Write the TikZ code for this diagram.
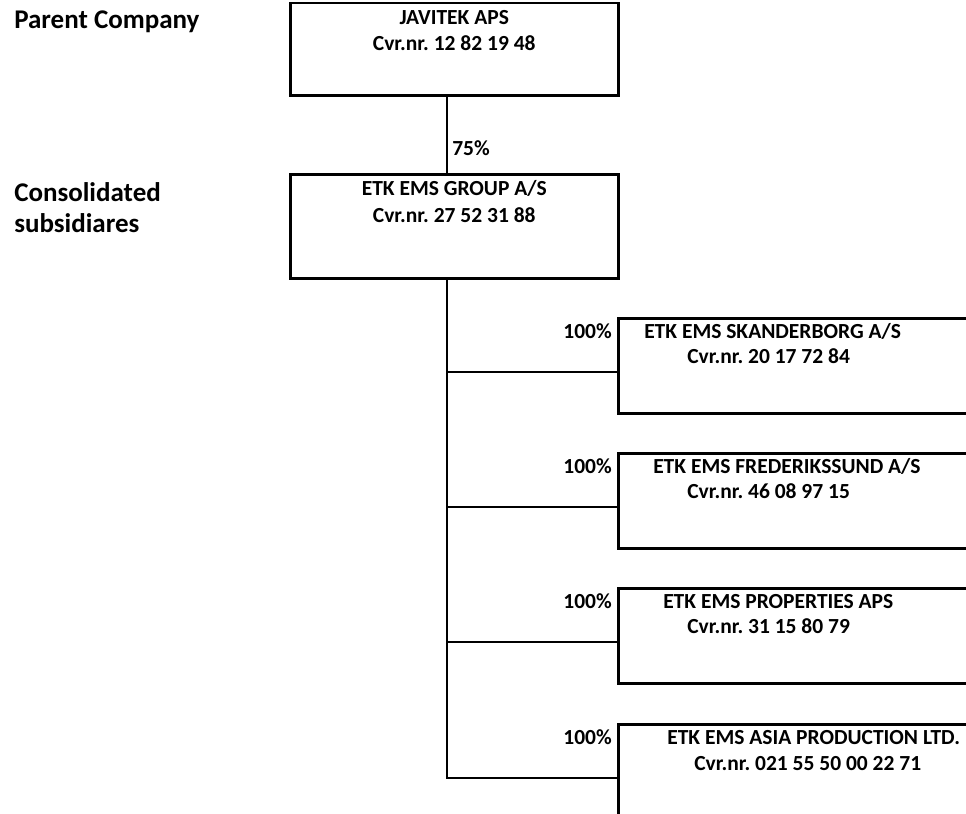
\documentclass[tikz,border=0pt]{standalone}
\usepackage{fontspec}
\setmainfont{Carlito}
\usetikzlibrary{positioning}
\frenchspacing

\begin{document}
\begin{tikzpicture}[
      x=1bp, y=-1bp,
      line width=2.5bp,
      company/.style={draw,rectangle,inner sep=0pt,anchor=north west},
      holding/.style={company,minimum width=328bp},
      subsid/.style={company,minimum width=380bp,minimum height=95bp},
      boxtext/.style={inner sep=0pt,font=\fontsize{21.5bp}{25bp}\selectfont\bfseries},
      sidetext/.style={inner sep=0pt,anchor=base west,font=\fontsize{27bp}{31bp}\selectfont\bfseries},
      share/.style={boxtext,anchor=base east}
    ]
    \useasboundingbox (0,0) rectangle (966,814);

    % side captions
    \node[sidetext] (parentlbl) at (13,29) {Parent Company};
    \node[sidetext] (consollbl) at (13,201) {Consolidated};
    \node[sidetext] (subsidlbl) at (13,232) {subsidiares};

    % parent and group
    \node[holding,minimum height=92bp] (javitek) at (289,2) {};
    \node[holding,minimum height=104bp] (group) at (289,173) {};
    \node[boxtext,anchor=base] (javname) at ([yshift=-23bp]javitek.north) {JAVITEK APS};
    \node[boxtext,anchor=base] (javcvr) at ([yshift=-48bp]javitek.north) {Cvr.nr. 12 82 19 48};
    \node[boxtext,anchor=base] (grpname) at ([yshift=-22bp]group.north) {ETK EMS GROUP A/S};
    \node[boxtext,anchor=base] (grpcvr) at ([yshift=-49bp]group.north) {Cvr.nr. 27 52 31 88};

    % subsidiaries
    \node[subsid] (skand) at (617,317) {};
    \node[subsid] (fred) at (617,452) {};
    \node[subsid] (prop) at (617,587) {};
    \node[subsid] (asia) at (617,723) {};
    \node[boxtext,anchor=base west] (skandname) at ([xshift=26bp,yshift=-21bp]skand.north west) {ETK EMS SKANDERBORG A/S};
    \node[boxtext,anchor=base west] (skandcvr) at ([xshift=69bp,yshift=-46bp]skand.north west) {Cvr.nr. 20 17 72 84};
    \node[boxtext,anchor=base west] (fredname) at ([xshift=35bp,yshift=-21bp]fred.north west) {ETK EMS FREDERIKSSUND A/S};
    \node[boxtext,anchor=base west] (fredcvr) at ([xshift=69bp,yshift=-46bp]fred.north west) {Cvr.nr. 46 08 97 15};
    \node[boxtext,anchor=base west] (propname) at ([xshift=45bp,yshift=-21bp]prop.north west) {ETK EMS PROPERTIES APS};
    \node[boxtext,anchor=base west] (propcvr) at ([xshift=69bp,yshift=-46bp]prop.north west) {Cvr.nr. 31 15 80 79};
    \node[boxtext,anchor=base west] (asianame) at ([xshift=49bp,yshift=-21bp]asia.north west) {ETK EMS ASIA PRODUCTION LTD.};
    \node[boxtext,anchor=base west] (asiacvr) at ([xshift=76bp,yshift=-47bp]asia.north west) {Cvr.nr. 021 55 50 00 22 71};

    % ownership lines
    \coordinate (trunk) at (447,0);
    \draw (javitek.south -| trunk) -- (group.north -| trunk);
    \node[boxtext,anchor=base west] (share75) at (451,155) {75\%};
    \draw (group.south -| trunk) |- ([yshift=-55bp]asia.north west);
    \foreach \sub in {skand,fred,prop}
      \draw ([yshift=-55bp]\sub.north west) -- ++(-170,0);
    \foreach \sub in {skand,fred,prop,asia}
      \node[share] at ([xshift=-4bp,yshift=-21bp]\sub.north west) {100\%};
\end{tikzpicture}
\end{document}
